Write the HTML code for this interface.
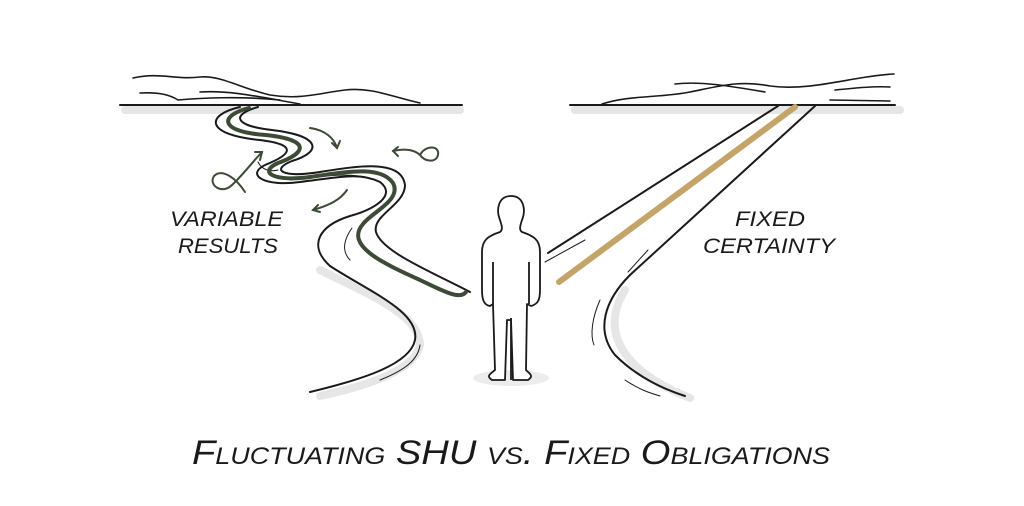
<!DOCTYPE html>
<html><head><meta charset="utf-8"><style>
html,body{margin:0;padding:0;background:#fff;}
svg{display:block;}
text{font-family:"Liberation Sans",sans-serif;fill:#1a1a1a;}
</style></head><body>
<svg width="1024" height="506" viewBox="0 0 1024 506" xmlns="http://www.w3.org/2000/svg">
<rect width="1024" height="506" fill="#fff"/>
<g fill="none" stroke="#e6e6e6" stroke-width="8" stroke-linecap="round">
<path d="M125,110 L460,110"/>
<path d="M575,110 L900,110"/>
<path d="M320,270 C370,295 420,315 420,345 C415,370 370,385 320,396"/>
<path d="M625,290 C600,330 620,370 690,398"/>
</g>
<ellipse cx="511" cy="378" rx="38" ry="8" fill="#ececec"/>
<g fill="none" stroke="#1a1a1a" stroke-width="1.6" stroke-linecap="round">
<!-- hills left -->
<path d="M133,78 C160,72 175,80 200,77 C220,75 240,88 270,95 C300,100 320,93 345,90 C370,87 390,96 420,103"/>
<path d="M140,93 C160,92 170,95 178,100 C200,98 240,96 280,100"/>
<path d="M200,92 C230,90 260,97 300,104"/>
<path d="M120,105 L462,105" stroke-width="2"/>
<!-- hills right -->
<path d="M602,104 C630,95 660,98 690,92 C720,86 740,80 770,86 C800,90 830,83 860,78 C880,75 890,74 894,74"/>
<path d="M675,84 C700,81 730,86 765,92"/>
<path d="M835,90 C855,88 875,86 890,87"/>
<path d="M830,100 L890,101"/>
<path d="M570,105 L895,105" stroke-width="2"/>
<!-- winding road left -->
<path d="M240,107 C205,115 205,135 260,140 C300,145 290,155 265,165 C245,175 265,187 300,182 C340,177 360,172 380,182 C398,196 372,210 350,216 C318,226 308,246 330,266 C370,292 420,312 415,340 C410,365 360,380 310,392" stroke-width="2"/>
<path d="M258,107 C230,115 235,126 272,130 C322,136 322,152 292,161 C270,170 282,178 320,172 C362,165 402,160 405,185 C405,205 372,215 376,232 C382,252 432,272 470,292" stroke-width="2"/>
<path d="M258,162 C262,170 270,172 278,170" stroke-width="1"/>
<path d="M290,180 C330,175 350,173 370,178" stroke-width="1"/>
<path d="M352,228 C340,245 345,255 350,260" stroke-width="1"/>
<path d="M420,345 C418,360 405,370 380,380" stroke-width="1"/>
<!-- straight road right -->
<path d="M778,106 L548,253" stroke-width="2"/>
<path d="M545,262 L585,240" stroke-width="1"/>
<path d="M815,106 L630,275 C605,300 595,330 615,355 C635,375 660,388 685,396" stroke-width="2"/>
<path d="M600,300 C592,318 590,335 594,345" stroke-width="1"/>
<path d="M625,380 C640,390 650,393 660,396" stroke-width="1"/>
<path d="M648,250 L628,272" stroke-width="1"/>
</g>
<!-- green center -->
<path d="M249,108 C218,116 220,132 266,135 C312,140 306,153 278,163 C258,172 273,182 310,177 C351,171 381,166 393,183 C402,200 372,212 363,224 C345,245 380,262 420,280 C445,292 460,300 466,292" fill="none" stroke="#3d4a36" stroke-width="4" stroke-linecap="round"/>
<!-- green arrows -->
<g fill="none" stroke="#3d4a36" stroke-width="2" stroke-linecap="round">
<path d="M262,152 C250,165 240,178 232,185 C222,195 208,185 214,176 C222,168 236,178 245,192"/>
<path d="M255,152 L262,152 L260,160"/>
<path d="M310,128 C325,130 334,138 337,148"/>
<path d="M332,143 L337,148 L340,141"/>
<path d="M393,151 C405,148 415,150 420,155 C425,145 440,145 438,155 C436,163 425,162 420,155"/>
<path d="M398,147 L393,151 L398,156"/>
<path d="M347,190 C340,200 330,205 313,210"/>
<path d="M318,205 L313,210 L320,212"/>
</g>
<!-- gold line -->
<path d="M795,107 L559,282" stroke="#c4a469" stroke-width="6" stroke-linecap="round"/>
<!-- figure -->
<g fill="#fff" stroke="#1a1a1a" stroke-width="1.8" stroke-linejoin="round">
<path d="M511,196 C498,196 496,210 500,220 C502,226 503,230 500,232 C488,236 482,240 482,252 L482,290 C482,300 484,305 490,306 L493,304 L495,370 C490,374 486,376 492,380 L505,380 L507,320 L509,320 L511,320 L513,380 L528,380 C534,376 530,374 526,370 L527,304 L531,306 C538,304 540,300 540,290 L540,252 C540,240 534,236 522,232 C519,230 520,226 522,220 C526,210 524,196 511,196 Z"/>
<path d="M493,262 L493,304 M529,262 L529,304 M511,318 L511,380" fill="none"/>
</g>
<!-- labels -->
<g font-style="italic" font-size="21">
<text x="170" y="226" textLength="113" lengthAdjust="spacingAndGlyphs">VARIABLE</text>
<text x="178" y="253" textLength="100" lengthAdjust="spacingAndGlyphs">RESULTS</text>
<text x="735" y="226" textLength="70" lengthAdjust="spacingAndGlyphs">FIXED</text>
<text x="703" y="253" textLength="132" lengthAdjust="spacingAndGlyphs">CERTAINTY</text>
</g>
<text x="192" y="464" font-size="34" font-style="italic" style="font-variant:small-caps" textLength="638" lengthAdjust="spacingAndGlyphs">Fluctuating SHU vs. Fixed Obligations</text>
</svg>
</body></html>
